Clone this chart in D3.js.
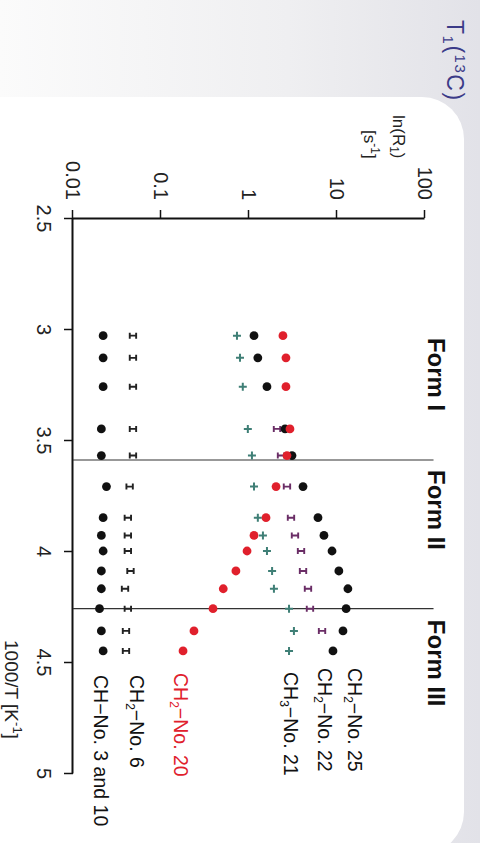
<!DOCTYPE html>
<html>
<head>
<meta charset="utf-8">
<script src="https://cdn.jsdelivr.net/npm/d3@7"></script>
<style>
  html, body { margin: 0; padding: 0; background: #fff; }
  svg { display: block; font-family: "Liberation Sans", Arial, sans-serif; }
</style>
</head>
<body>
<svg id="chart" width="480" height="843"></svg>
<script>
// 1000/T [K^-1] at each measured temperature
const invT = [3.03, 3.13, 3.26, 3.45, 3.57, 3.71, 3.85, 3.93, 4.00, 4.09, 4.17, 4.26, 4.36, 4.45];

// R1 relaxation rates [s^-1] per carbon site (null = not measured)
const ch2No25 = [1.14, 1.26, 1.60, 2.57, 3.08, 4.11, 6.08, 7.11, 8.78, 10.5, 13.3, 12.7, 11.7, 9.0];
const ch2No22 = [null, null, null, 2.08, 2.31, 2.70, 3.00, 3.33, 3.90, 4.11, 4.68, 4.93, 6.76, null];
const ch3No21 = [0.73, 0.79, 0.85, 0.97, 1.08, 1.14, 1.26, 1.44, 1.60, 1.83, 1.92, 2.85, 3.24, 2.85];
const ch2No20 = [2.43, 2.63, 2.63, 2.92, 2.70, 2.03, 1.56, 1.14, 0.95, 0.71, 0.51, 0.39, 0.237, 0.178];
const ch2No6  = [0.048, 0.048, 0.048, 0.048, 0.048, 0.044, 0.042, 0.042, 0.042, 0.045, 0.039, 0.042, 0.040, 0.040];
const chNo3and10 = [0.022, 0.022, 0.022, 0.021, 0.021, 0.024, 0.022, 0.021, 0.022, 0.021, 0.021, 0.020, 0.021, 0.022];

// phase boundaries (1000/T)
const formBounds = [3.59, 4.26];
const formNames = ["Form I", "Form II", "Form III"];

// axis ticks
const xTicks = [2.5, 3, 3.5, 4, 4.5, 5];
const xTickLabels = ["2.5", "3", "3.5", "4", "4.5", "5"];
const yTicks = [0.01, 0.1, 1, 10, 100];
const yTickLabels = ["0.01", "0.1", "1", "10", "100"];

const W = 480, H = 843;
const FONT = '"Liberation Sans", Arial, sans-serif';
const svg = d3.select("#chart");

// slide backdrop: grey band with a white rounded panel
const defs = svg.append("defs");
const band = defs.append("linearGradient").attr("id", "band")
  .attr("x1", 0).attr("x2", 1).attr("y1", 0).attr("y2", 0);
band.append("stop").attr("offset", 0).attr("stop-color", "#fbfbfb");
band.append("stop").attr("offset", 0.6).attr("stop-color", "#efeff1");
band.append("stop").attr("offset", 1).attr("stop-color", "#e2e2e8");
svg.append("rect").attr("width", W).attr("height", H).attr("fill", "url(#band)");
svg.append("rect").attr("x", -60).attr("y", 97).attr("width", 524).attr("height", 757)
  .attr("rx", 42).attr("fill", "#ffffff");

// slide title
const title = svg.append("text")
  .attr("transform", "translate(455,20) rotate(90)")
  .attr("x", 0).attr("y", 8)
  .attr("font-family", FONT).attr("font-size", 23).attr("fill", "#3b3b88")
  .attr("letter-spacing", 1.5);
title.append("tspan").text("T");
title.append("tspan").attr("font-size", 15).attr("dy", 4).text("1");
title.append("tspan").attr("dy", -4).text("(");
title.append("tspan").attr("font-size", 15).attr("dy", -8).text("13");
title.append("tspan").attr("dy", 8).text("C)");

// plot is laid out in its own frame and turned a quarter turn clockwise
const plotW = 555, plotH = 352;
const x = d3.scaleLinear().domain([2.5, 5]).range([0, plotW]);
const y = d3.scaleLog().domain([0.01, 100]).range([plotH, 0]);
const g = svg.append("g").attr("transform", "translate(425,218) rotate(90)");

const xAxis = g.append("g").attr("transform", `translate(0,${plotH})`)
  .call(d3.axisBottom(x).tickValues(xTicks).tickFormat((d, i) => xTickLabels[i])
    .tickSize(9).tickSizeOuter(0).tickPadding(13));
const yAxis = g.append("g")
  .call(d3.axisLeft(y).tickValues(yTicks).tickFormat((d, i) => yTickLabels[i])
    .tickSize(8).tickSizeOuter(0).tickPadding(10));
[xAxis, yAxis].forEach(a => {
  a.attr("font-family", null).attr("font-size", null);
  a.select(".domain").attr("stroke", "#111").attr("stroke-width", 2);
  a.selectAll(".tick line").attr("stroke", "#111").attr("stroke-width", 1.5);
  a.selectAll(".tick text").attr("font-family", FONT).attr("font-size", 20).attr("fill", "#222");
});

// phase boundary lines
g.selectAll(".bound").data(formBounds).join("line")
  .attr("x1", d => x(d)).attr("x2", d => x(d))
  .attr("y1", y(0.01)).attr("y2", y(125))
  .attr("stroke", "#333").attr("stroke-width", 1.2);

// phase names
const formStart = [3.04, 3.635, 4.31];
g.selectAll(".form").data(formNames).join("text")
  .attr("x", (d, i) => x(formStart[i])).attr("y", -3)
  .attr("font-family", FONT).attr("font-size", 24).attr("font-weight", "bold").attr("fill", "#111")
  .text(d => d);

// axis titles
const yt1 = g.append("text").attr("x", -103).attr("y", 32)
  .attr("font-family", FONT).attr("font-size", 17).attr("fill", "#222");
yt1.append("tspan").text("ln(R");
yt1.append("tspan").attr("font-size", 12).attr("dy", 3).text("1");
yt1.append("tspan").attr("dy", -3).text(")");
const yt2 = g.append("text").attr("x", -88).attr("y", 61)
  .attr("font-family", FONT).attr("font-size", 17).attr("fill", "#222");
yt2.append("tspan").text("[s");
yt2.append("tspan").attr("font-size", 12).attr("dy", -7).text("-1");
yt2.append("tspan").attr("dy", 7).text("]");
const xt = g.append("text").attr("x", 422).attr("y", 420)
  .attr("font-family", FONT).attr("font-size", 19).attr("fill", "#222");
xt.append("tspan").text("1000/T  [K");
xt.append("tspan").attr("font-size", 13).attr("dy", -8).text("-1");
xt.append("tspan").attr("dy", 8).text("]");

// marker shapes
const shapes = {
  dot:   sel => sel.append("circle").attr("r", 4.4),
  plus:  sel => sel.append("path").attr("d", "M-4,0H4M0,-4V4").attr("fill", "none").attr("stroke-width", 2),
  ibeam: sel => sel.append("path").attr("d", "M-3,-3.2H3M-3,3.2H3M0,-3.2V3.2").attr("fill", "none").attr("stroke-width", 1.9)
};

const series = [
  { values: chNo3and10, color: "#111",    shape: "dot",   sub: "",  name: "CH",  rest: "\u2212No. 3 and 10", lx: 457, ly: 331 },
  { values: ch2No6,     color: "#222",    shape: "ibeam", sub: "2", name: "CH",  rest: "\u2212No. 6",        lx: 457, ly: 295 },
  { values: ch3No21,    color: "#3f7f76", shape: "plus",  sub: "3", name: "CH",  rest: "\u2212No. 21",       lx: 454, ly: 141 },
  { values: ch2No22,    color: "#6a2d66", shape: "ibeam", sub: "2", name: "CH",  rest: "\u2212No. 22",       lx: 450, ly: 107 },
  { values: ch2No25,    color: "#111",    shape: "dot",   sub: "2", name: "CH",  rest: "\u2212No. 25",       lx: 450, ly: 77 },
  { values: ch2No20,    color: "#e0202c", shape: "dot",   sub: "2", name: "CH",  rest: "\u2212No. 20",       lx: 455, ly: 251 }
];

series.forEach(s => {
  const pts = invT.map((t, i) => ({ t, v: s.values[i] })).filter(p => p.v != null);
  const m = g.append("g").selectAll("g").data(pts).join("g")
    .attr("transform", p => `translate(${x(p.t)},${y(p.v)})`)
    .attr("fill", s.color).attr("stroke", s.color);
  if (s.shape === "dot") m.call(shapes.dot).selectAll("circle").attr("stroke", "none");
  else m.call(shapes[s.shape]);

  const lab = g.append("text").attr("x", s.lx).attr("y", s.ly)
    .attr("font-family", FONT).attr("font-size", 19.5).attr("fill", s.color === "#e0202c" ? "#e0202c" : "#111");
  lab.append("tspan").text(s.name);
  if (s.sub) {
    lab.append("tspan").attr("font-size", 12).attr("dy", 4).text(s.sub);
    lab.append("tspan").attr("dy", -4).text(s.rest);
  } else {
    lab.append("tspan").text(s.rest);
  }
});
</script>
</body>
</html>
